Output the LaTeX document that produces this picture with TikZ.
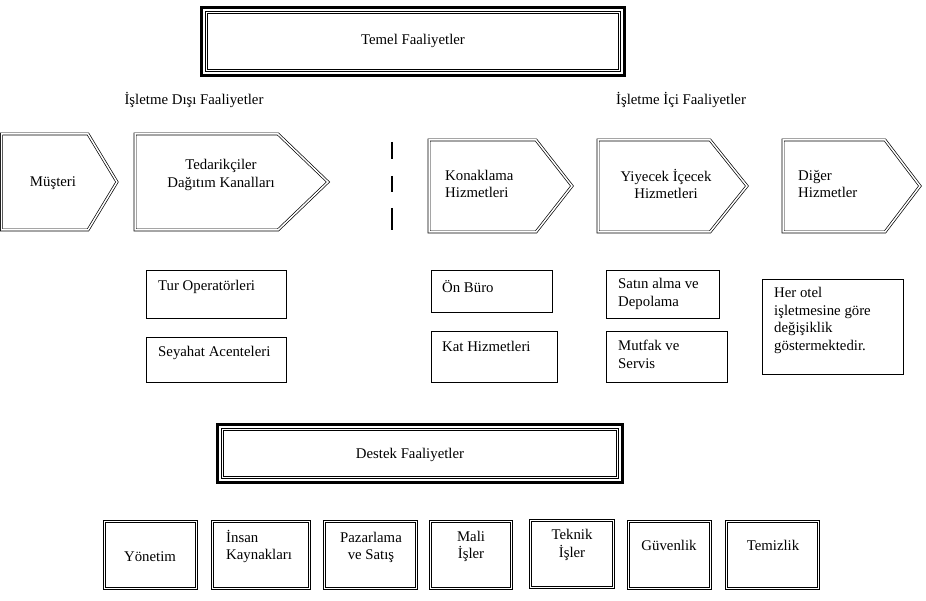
\documentclass[tikz,border=0pt]{standalone}
\usepackage{fontspec}
\setmainfont{Liberation Serif}

\begin{document}
\begin{tikzpicture}[x=1pt, y=-1pt,
    lbl/.style={font=\fontsize{14.8}{17.5}\selectfont, inner sep=0pt},
    lblleft/.style={lbl, align=left, anchor=west},
    lblmid/.style={lbl, align=center},
    chevron/.style={draw, line width=0.7pt, double, double distance=1.5pt, line join=miter},
    thinbox/.style={draw, line width=0.8pt},
    dblbox/.style={draw, line width=0.8pt, double, double distance=1.5pt},
    heavyframe/.style={draw, line width=3pt},
    sepline/.style={draw, line width=1.2pt}]

    \useasboundingbox (0,0) rectangle (926,601);

    % Temel Faaliyetler:
    \draw[heavyframe] (201.5,7.5) rectangle (624.5,75.5);
    \draw[dblbox] (206.5,12.5) rectangle (619.5,70.5);
    \node[lbl] (temel) at (413,41) {Temel Faaliyetler};

    \node[lbl] (disi) at (194,100) {İşletme Dışı Faaliyetler};
    \node[lbl] (ici) at (681,100) {İşletme İçi Faaliyetler};

    % Chevrons:
    \draw[chevron] (1.5,134) -- (88,134) -- (117,182) -- (88,230) -- (1.5,230) -- cycle;
    \node[lbl] (musteri) at (53,183) {Müşteri};
    \draw[chevron] (135,134) -- (278,134) -- (328,182) -- (278,230) -- (135,230) -- cycle;
    \node[lblmid] (tedarik) at (221,175) {Tedarikçiler\\Dağıtım Kanalları};

    \foreach \ya/\yb in {142/159, 176/192, 208/230}
        \draw[sepline] (392,\ya) -- (392,\yb);

    \draw[chevron] (429,140) -- (536,140) -- (572,186) -- (536,232) -- (429,232) -- cycle;
    \node[lblleft] (konaklama) at (445,184) {Konaklama\\Hizmetleri};
    \draw[chevron] (598,140) -- (710,140) -- (747,186) -- (710,232) -- (598,232) -- cycle;
    \node[lblmid] (yiyecek) at (666,184) {Yiyecek İçecek\\Hizmetleri};
    \draw[chevron] (783,140) -- (885,140) -- (920,186) -- (885,232) -- (783,232) -- cycle;
    \node[lblleft] (diger) at (798,184) {Diğer\\Hizmetler};

    % Sub boxes:
    \draw[thinbox] (146,270) rectangle (286,318);
    \node[lblleft] (tur) at (158,287) {Tur Operatörleri};
    \draw[thinbox] (146,337) rectangle (286,382);
    \node[lblleft] (seyahat) at (158,353) {Seyahat Acenteleri};
    \draw[thinbox] (431,270) rectangle (552,312);
    \node[lblleft] (onburo) at (442,287) {Ön Büro};
    \draw[thinbox] (431,331) rectangle (557,382);
    \node[lblleft] (kat) at (442,346) {Kat Hizmetleri};
    \draw[thinbox] (606,270) rectangle (719,318);
    \node[lblleft] (satin) at (618,294) {Satın alma ve\\Depolama};
    \draw[thinbox] (606,331) rectangle (727,382);
    \node[lblleft] (mutfak) at (618,354.5) {Mutfak ve\\Servis};
    \draw[thinbox] (762,279) rectangle (903,374);
    \node[lblleft] (herotel) at (774,320.5) {Her otel\\işletmesine göre\\değişiklik\\göstermektedir.};

    % Destek Faaliyetler:
    \draw[heavyframe] (217.5,424.5) rectangle (622.5,482.5);
    \draw[dblbox] (222.5,429.5) rectangle (617.5,477.5);
    \node[lbl] (destek) at (410,455) {Destek Faaliyetler};

    \draw[dblbox] (104.5,521.5) rectangle (196.5,588.5);
    \node[lbl] (yonetim) at (150,557) {Yönetim};
    \draw[dblbox] (212.5,521.5) rectangle (309.5,588.5);
    \node[lblleft] (insan) at (226,546.5) {İnsan\\Kaynakları};
    \draw[dblbox] (324.5,521.5) rectangle (416.5,588.5);
    \node[lblmid] (pazarlama) at (371,547.5) {Pazarlama\\ve Satış};
    \draw[dblbox] (430.5,521.5) rectangle (511.5,588.5);
    \node[lblmid] (mali) at (471,546.5) {Mali\\İşler};
    \draw[dblbox] (530.5,520.5) rectangle (613.5,587.5);
    \node[lblmid] (teknik) at (572,545) {Teknik\\İşler};
    \draw[dblbox] (628.5,521.5) rectangle (710.5,588.5);
    \node[lbl] (guvenlik) at (669,545) {Güvenlik};
    \draw[dblbox] (726.5,521.5) rectangle (818.5,588.5);
    \node[lbl] (temizlik) at (773,545) {Temizlik};

\end{tikzpicture}
\end{document}
